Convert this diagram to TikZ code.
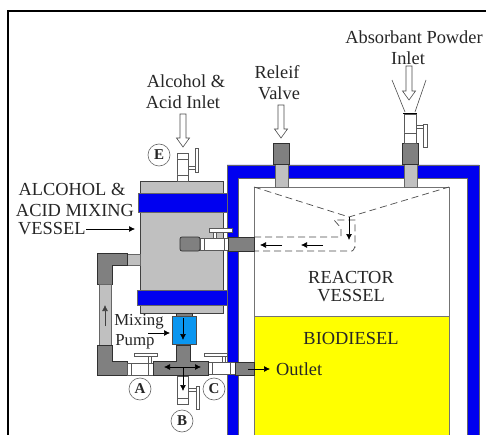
\documentclass[tikz,border=0pt]{standalone}
\usepackage{fontspec}
\setmainfont{Liberation Serif}
\usetikzlibrary{arrows.meta}
\definecolor{frameblue}{HTML}{0000F0}
\definecolor{pumpblue}{HTML}{0A96F0}
\definecolor{dgray}{HTML}{808080}
\definecolor{lgray}{HTML}{C0C0C0}
\definecolor{edge}{HTML}{303030}
\definecolor{yel}{HTML}{FFFF00}
\newcommand{\hollowdown}[3]{% x, ytop, ybottom
  \draw[hollow] (#1-3,#2) -- (#1+3,#2) -- (#1+3,#3-9) -- (#1+6.5,#3-9) -- (#1,#3) -- (#1-6.5,#3-9) -- (#1-3,#3-9) -- cycle;}
\tikzset{
  x=1pt,y=-1pt,
  hollow/.style={draw=black!70,fill=white,line width=.6pt},
  dark/.style={draw=edge,fill=dgray,line width=.7pt},
  light/.style={draw=black!60,fill=lgray,line width=.6pt},
  bluepart/.style={draw=black!60,fill=frameblue,line width=.5pt},
  whitepart/.style={draw=black!65,fill=white,line width=.6pt},
  flow/.style={black,line width=.7pt,-{Latex[length=6pt,width=6pt]}},
  dashline/.style={black!70,line width=.7pt,dash pattern=on 7pt off 4pt},
  lab/.style={font=\fontsize{18.4}{20}\selectfont,inner sep=0pt,text=black!85},
  labsmall/.style={font=\fontsize{16.8}{18}\selectfont,inner sep=0pt,text=black!85},
  tag/.style={circle,draw=black!60,line width=.6pt,minimum size=22pt,inner sep=0pt,font=\fontsize{15}{16}\selectfont\bfseries,text=black!85},
}
\begin{document}
\begin{tikzpicture}
\useasboundingbox (0,0) rectangle (486,435);
\fill[white] (0,0) rectangle (486,435);
% outer frame
\draw[black,line width=2pt] (8,435) -- (8,11) -- (486,11);
% reactor interior
\fill[yel] (254,316) rectangle (449,435);
\draw[black!55,line width=.9pt] (254,435) -- (254,187) -- (449,187) -- (449,435);
\draw[black!55,line width=.6pt] (254,316) -- (449,316);
% blue jacket
\fill[frameblue,draw=black!60,line width=.5pt] (227,435) -- (227,165) -- (479,165) -- (479,435) -- (467,435) -- (467,178) -- (238,178) -- (238,435) -- cycle;
% reactor nozzles
\draw[light] (275,164) rectangle (288,187);
\draw[light] (404,164) rectangle (417,187);
\draw[dark] (273,143) rectangle (289,164);
\draw[dark] (402,143) rectangle (418,164);
% powder valve
\draw[whitepart] (404,114) rectangle (416,143);
\draw[whitepart] (404,133) -- (416,133);
\draw[whitepart] (416,125) rectangle (423,128);
\draw[whitepart] (423,124) rectangle (427,147);
\draw[black,line width=1.5pt] (403,113.5) -- (417,113.5);
\draw[black!70,line width=.6pt] (392,80) -- (405,112) (426,80) -- (415,112);
\hollowdown{409}{66}{100}
\hollowdown{281}{105}{138}
% dashed internals
\draw[dashline] (254,187) -- (349,217) -- (449,187);
\draw[dashline] (254,237) -- (341,237) -- (341,228) -- (334,220) -- (355,220) -- (355,247) to[out=90,in=0] (352,251) -- (254,251);
\draw[flow] (349,217) -- (349,240);
\draw[flow] (282,245) -- (260,245);
\draw[flow] (323,245) -- (301,245);
% mixing vessel
\draw[light,draw=black!75] (140,181) rectangle (223,313);
\draw[bluepart] (138,193) rectangle (227,212);
\draw[bluepart] (137,290) rectangle (227,305);
% vessel E valve
\draw[whitepart] (177,153) rectangle (188,181);
\draw[whitepart] (177,175) -- (188,175);
\draw[whitepart] (177,159) -- (188,159);
\draw[whitepart] (188,166) rectangle (195,169);
\draw[whitepart] (195,148) rectangle (198,172);
\hollowdown{183}{114}{147}
% vessel outlet to reactor
\draw[dark,rounded corners=2pt] (180,237) rectangle (200,251);
\draw[whitepart] (200,238) rectangle (228,250);
\draw[whitepart] (204,238) -- (204,250) (224,238) -- (224,250);
\draw[whitepart] (213,232) rectangle (216,238);
\draw[whitepart] (209,228) rectangle (232,232);
\draw[dark] (228,237) rectangle (254,251);
% left circulation pipe
\draw[light] (127,254) rectangle (140,265);
\draw[dark] (97,253) -- (127,253) -- (127,265) -- (112,265) -- (112,284) -- (97,284) -- cycle;
\draw[light] (99,284) rectangle (111,345);
\draw[dark] (97,345) -- (112,345) -- (112,361) -- (127,361) -- (127,375) -- (97,375) -- cycle;
\draw[flow,black!75] (105,326) -- (105,305);
% pump
\draw[dark] (176,313) rectangle (192,316);
\draw[draw=black!70,fill=pumpblue,line width=.6pt] (172,316) rectangle (196,344);
\draw[flow] (183,318) -- (183,340);
% valve A
\draw[whitepart] (127,363) rectangle (153,375);
\draw[whitepart] (131,363) -- (131,375) (148,363) -- (148,375);
\draw[whitepart] (148,356) rectangle (151,363);
\draw[whitepart] (134,353) rectangle (157,356);
% valve C
\draw[whitepart] (208,362) rectangle (235,374);
\draw[whitepart] (212,362) -- (212,374) (230,362) -- (230,374);
\draw[whitepart] (222,356) rectangle (225,362);
\draw[whitepart] (204,353) rectangle (227,356);
\draw[dark] (235,362) rectangle (254,375);
% valve B
\draw[whitepart] (177,376) rectangle (188,404);
\draw[whitepart] (177,398) -- (188,398);
\draw[whitepart] (188,388) rectangle (196,391);
\draw[whitepart] (196,386) rectangle (199,409);
% tee
\draw[dark] (153,361) -- (176,361) -- (176,345) -- (190,345) -- (190,361) -- (208,361) -- (208,375) -- (153,375) -- cycle;
\draw[flow,{Latex[length=6pt,width=6pt]}-{Latex[length=6pt,width=6pt]}] (164,367) -- (201,367);
\draw[flow] (183,367) -- (183,391);
% outlet arrow
\draw[flow] (248,369) -- (270,369);
% labels
\node[lab] (l1) at (186,81) {Alcohol \&};
\node[lab] (l2) at (183,102) {Acid Inlet};
\node[lab] (l3) at (277,72) {Releif};
\node[lab] (l4) at (279,93) {Valve};
\node[lab] (l5) at (414,37) {Absorbant Powder};
\node[lab] (l6) at (408,58) {Inlet};
\node[lab] (l7) at (72,189) {ALCOHOL \&};
\node[lab] (l8) at (75,210) {ACID MIXING};
\node[lab,anchor=west] (l9) at (18,229) {VESSEL};
\coordinate (vt) at (135,229);
\draw[flow] (l9.east) -- (vt);
\node[lab] (l10) at (351,277) {REACTOR};
\node[lab] (l11) at (351,296) {VESSEL};
\node[lab] (l12) at (351,338) {BIODIESEL};
\node[labsmall] (l13) at (139,322) {Mixing};
\node[labsmall] (l14) at (135,342) {Pump};
\coordinate (pa) at (170,333);
\coordinate (pb) at (148,333);
\draw[flow] (pb) -- (pa);
\node[lab,anchor=west] (l15) at (276,369) {Outlet};
\node[tag,fill=white] (tE) at (159,155) {E};
\node[tag,fill=white] (tA) at (140,389) {A};
\node[tag,fill=white] (tC) at (214,389) {C};
\node[tag,fill=white] (tB) at (182,421) {B};
\end{tikzpicture}
\end{document}
